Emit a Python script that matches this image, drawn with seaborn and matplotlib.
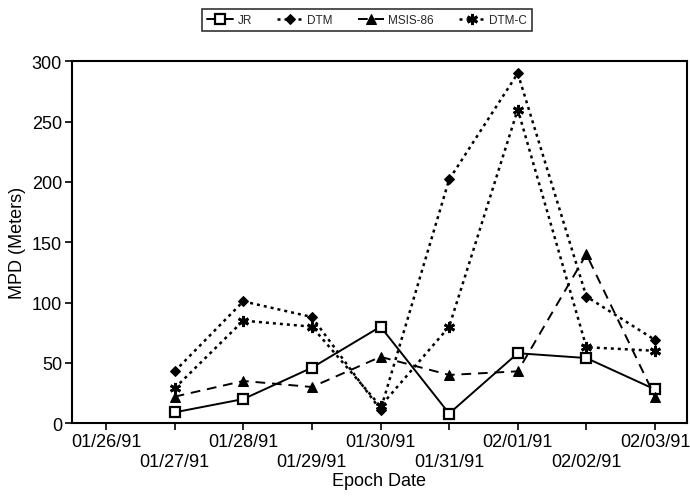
import matplotlib
matplotlib.use("Agg")
import matplotlib.pyplot as plt
import seaborn as sns
import pandas as pd

# ---- data ----
tick_labels = ["01/26/91", "01/27/91", "01/28/91", "01/29/91", "01/30/91",
               "01/31/91", "02/01/91", "02/02/91", "02/03/91"]
point_dates = ["01/27/91", "01/28/91", "01/29/91", "01/30/91",
               "01/31/91", "02/01/91", "02/02/91", "02/03/91"]
jr      = [9, 20, 46, 80, 8, 58, 54, 28]
dtm     = [43, 101, 88, 11, 202, 290, 105, 69]
msis86  = [22, 35, 30, 55, 40, 43, 140, 22]
dtm_c   = [29, 85, 80, 14, 80, 260, 63, 60]
series_names = ["JR", "DTM", "MSIS-86", "DTM-C"]

sns.set_theme(style="white")
plt.rcParams["font.family"] = ["Liberation Sans", "DejaVu Sans"]

day_index = {d: i for i, d in enumerate(tick_labels)}
rows = []
for name, vals in zip(series_names, [jr, dtm, msis86, dtm_c]):
    for d, v in zip(point_dates, vals):
        rows.append({"model": name, "day": day_index[d], "mpd": v})
df = pd.DataFrame(rows)

fig = plt.figure(figsize=(6.9, 5.02), dpi=100)
ax = fig.add_axes([0.104, 0.155, 0.892, 0.721])

styles = {
    "JR":      dict(linestyle="-", marker="s", markersize=7, markerfacecolor="white",
                    markeredgecolor="black", markeredgewidth=1.6, linewidth=1.4),
    "DTM":     dict(linestyle=(0, (1.2, 1.6)), marker="D", markersize=5, markerfacecolor="black",
                    markeredgecolor="black", linewidth=1.8),
    "MSIS-86": dict(linestyle=(0, (5, 3.5)), marker="^", markersize=6.5, markerfacecolor="black",
                    markeredgecolor="black", linewidth=1.4),
    "DTM-C":   dict(linestyle=(0, (1.2, 1.6)), marker=(6, 2, 0), markersize=8,
                    markeredgecolor="black", markeredgewidth=2.0, linewidth=1.8),
}

for name in series_names:
    sub = df[df["model"] == name]
    sns.lineplot(data=sub, x="day", y="mpd", ax=ax, color="black", label=name,
                 legend=False, **styles[name])

ax.set_xlim(-0.5, 8.47)
ax.set_ylim(0, 300)
ax.set_yticks([0, 50, 100, 150, 200, 250, 300])
ax.set_xticks(range(len(tick_labels)))
ax.set_xticklabels([lab if i % 2 == 0 else "\n" + lab for i, lab in enumerate(tick_labels)])
ax.tick_params(axis="both", which="major", direction="out", length=5, width=1.2,
               color="black", labelsize=13, labelcolor="black", bottom=True, left=True, pad=2)
for sp in ax.spines.values():
    sp.set_color("black")
    sp.set_linewidth(1.5)
    sp.set_visible(True)

ax.set_xlabel("Epoch Date", fontsize=13, color="black", labelpad=2)
ax.set_ylabel("MPD (Meters)", fontsize=13, color="black", labelpad=4)

handles, labels = ax.get_legend_handles_labels()
leg = fig.legend(handles, labels, loc="center", bbox_to_anchor=(0.532, 0.958), ncol=4,
                 frameon=True, fancybox=False, edgecolor="black", fontsize=8.5,
                 handlelength=2.2, columnspacing=2.1, borderpad=0.4, handletextpad=0.4)
leg.get_frame().set_linewidth(1.2)

fig.savefig("out.png", dpi=100, facecolor="white")
